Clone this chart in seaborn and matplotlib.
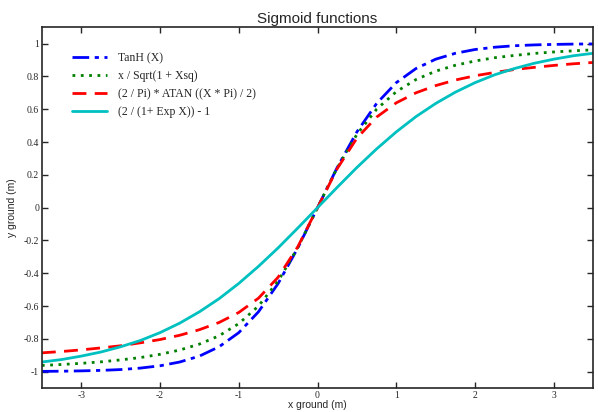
import pandas as pd
import numpy as np
import matplotlib
matplotlib.use("Agg")
import matplotlib.pyplot as plt
import seaborn as sns

# x sample points (step 0.25)
x_pos = [0, 0.25, 0.5, 0.75, 1.0, 1.25, 1.5, 1.75, 2.0, 2.25, 2.5, 2.75, 3.0, 3.25, 3.5]

# values read for positive x (curves are odd, so negative side mirrors)
tanh_pos = [0, 0.245, 0.462, 0.635, 0.762, 0.848, 0.905, 0.941, 0.964, 0.978, 0.987, 0.992, 0.995, 0.997, 0.998]
sqrt_pos = [0, 0.243, 0.447, 0.600, 0.707, 0.781, 0.832, 0.868, 0.894, 0.914, 0.928, 0.940, 0.949, 0.956, 0.962]
atan_pos = [0, 0.238, 0.424, 0.552, 0.639, 0.700, 0.744, 0.778, 0.804, 0.824, 0.842, 0.855, 0.867, 0.877, 0.885]
exp_pos = [0, 0.124, 0.245, 0.358, 0.462, 0.555, 0.635, 0.704, 0.762, 0.810, 0.848, 0.880, 0.905, 0.926, 0.941]

labels = ["TanH (X)", "x / Sqrt(1 + Xsq)", "(2 / Pi) * ATAN ((X * Pi) / 2)", "(2 / (1+ Exp X)) - 1"]
colors = ["#0000ff", "#008000", "#ff0000", "#00c0c0"]
styles = [(0, (6, 2, 1.5, 2)), (0, (1, 2)), (0, (5, 3)), "-"]


def mirror(xs, ys):
    xx = [-v for v in xs[:0:-1]] + list(xs)
    yy = [-v for v in ys[:0:-1]] + list(ys)
    return xx, yy


sns.set_style("ticks")
plt.rcParams["axes.unicode_minus"] = False
fig = plt.figure(figsize=(5.98, 4.12), dpi=100)
ax = fig.add_axes([0.070, 0.058, 0.922, 0.876])

for lab, ys, c, ls in zip(labels, [tanh_pos, sqrt_pos, atan_pos, exp_pos], colors, styles):
    xx, yy = mirror(x_pos, ys)
    df = pd.DataFrame({"x": xx, "y": yy})
    sns.lineplot(data=df, x="x", y="y", ax=ax, color=c, linestyle=ls, linewidth=2, label=lab)

ax.set_xlim(-3.5, 3.5)
ax.set_ylim(-1.1, 1.1)
ax.set_xticks([-3, -2, -1, 0, 1, 2, 3])
ax.set_yticks([-1, -0.8, -0.6, -0.4, -0.2, 0, 0.2, 0.4, 0.6, 0.8, 1])
ax.set_yticklabels(["-1", "-0.8", "-0.6", "-0.4", "-0.2", "0", "0.2", "0.4", "0.6", "0.8", "1"])
ax.tick_params(direction="in", top=True, right=True, length=4, width=1, labelsize=7)
ax.tick_params(axis="x", pad=2)
ax.tick_params(axis="y", pad=2)
for lbl in ax.get_xticklabels() + ax.get_yticklabels():
    lbl.set_family("Liberation Serif")
for sp in ax.spines.values():
    sp.set_linewidth(1.2)

ax.set_xlabel("x ground (m)", fontsize=7.5, family="Liberation Sans", labelpad=0)
ax.set_ylabel("y ground (m)", fontsize=7.5, family="Liberation Sans", labelpad=5)
ax.set_title("Sigmoid functions", fontsize=11, family="Liberation Sans", pad=3)

leg = ax.legend(loc="upper left", bbox_to_anchor=(0.035, 0.96), frameon=False,
                prop={"family": "Liberation Serif", "size": 8.5}, handlelength=3.0,
                labelspacing=0.5, handletextpad=0.9)

fig.savefig("out.png", dpi=100)
